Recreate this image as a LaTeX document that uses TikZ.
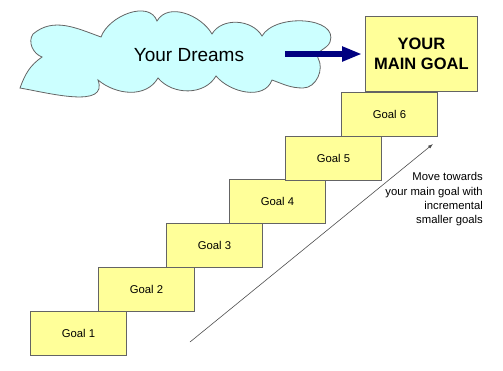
\documentclass[tikz,border=0pt]{standalone}
\usepackage{fontspec}
\setmainfont{Liberation Sans}
\usetikzlibrary{arrows.meta}
\definecolor{goalfill}{RGB}{255,255,153}
\definecolor{goalline}{RGB}{100,100,100}
\definecolor{cloudfill}{RGB}{204,255,255}
\definecolor{navy}{RGB}{0,0,128}
\tikzset{
  goalbox/.style={draw=goalline, fill=goalfill, line width=0.8pt, anchor=north west,
    minimum width=96pt, minimum height=44pt, inner sep=0pt, font=\fontsize{11.3}{13}\selectfont},
  mainbox/.style={draw=goalline, fill=goalfill, line width=0.8pt, anchor=north west,
    minimum width=112pt, minimum height=75pt, inner sep=0pt, align=center,
    font=\fontsize{16.5}{20}\selectfont\bfseries},
  cloudline/.style={draw=goalline, fill=cloudfill, line width=0.8pt},
  bigarrow/.style={navy, line width=6.5pt, -{Triangle[length=20pt,width=14pt]}},
  climb/.style={draw=black!70, line width=0.6pt, -{Latex[length=5pt,width=3.5pt]}},
  note/.style={align=right, anchor=north east, inner sep=0pt, font=\fontsize{11.3}{14.2}\selectfont}
}
\begin{document}
\begin{tikzpicture}[x=1pt,y=-1pt]
\useasboundingbox (0,0) rectangle (503,370);

% cloud outline, clockwise lobes between the notch points
\path[cloudline]
  (20,88) to[out=70,in=215] (42,57)
  to[out=160,in=235] (33,34)
  to[out=40,in=160] (101,37)
  to[out=70,in=110] (157,21)
  to[out=60,in=120] (212,34)
  to[out=60,in=120] (262,36)
  to[out=60,in=70] (330,42) to[out=250,in=120] (318,58)
  to[out=-60,in=0] (303,88)
  to[out=180,in=-20] (272,80)
  to[out=-110,in=-50] (216,76)
  to[out=-120,in=-50] (158,78)
  to[out=-120,in=-40] (98,80)
  to[out=-70,in=-10] (20,88) -- cycle;
\node (dreams) at (189,55) {\fontsize{19}{22}\selectfont Your Dreams};

% staircase of goals
\node[goalbox] (g1) at (30,311) {Goal 1};
\node[goalbox] (g2) at (98,267) {Goal 2};
\node[goalbox] (g3) at (166,223) {Goal 3};
\node[goalbox] (g4) at (229,179) {Goal 4};
\node[goalbox] (g5) at (285,136) {Goal 5};
\node[goalbox] (g6) at (341,92) {Goal 6};
\node[mainbox] (main) at (365,16) {YOUR\\MAIN GOAL};

% arrow from the dreams to the main goal
\coordinate (dstart) at (285,54);
\coordinate (mainin) at ([xshift=-3pt]main.west |- dstart);
\draw[bigarrow] (dstart) -- (mainin);

% rising arrow beside the steps
\coordinate (cbase) at (190,342);
\coordinate (ctop) at (433,144);
\draw[climb] (cbase) -- (ctop);
\node[note] (hint) at (483,172.5) {Move towards\\your main goal with\\incremental\\smaller goals};
\end{tikzpicture}
\end{document}
